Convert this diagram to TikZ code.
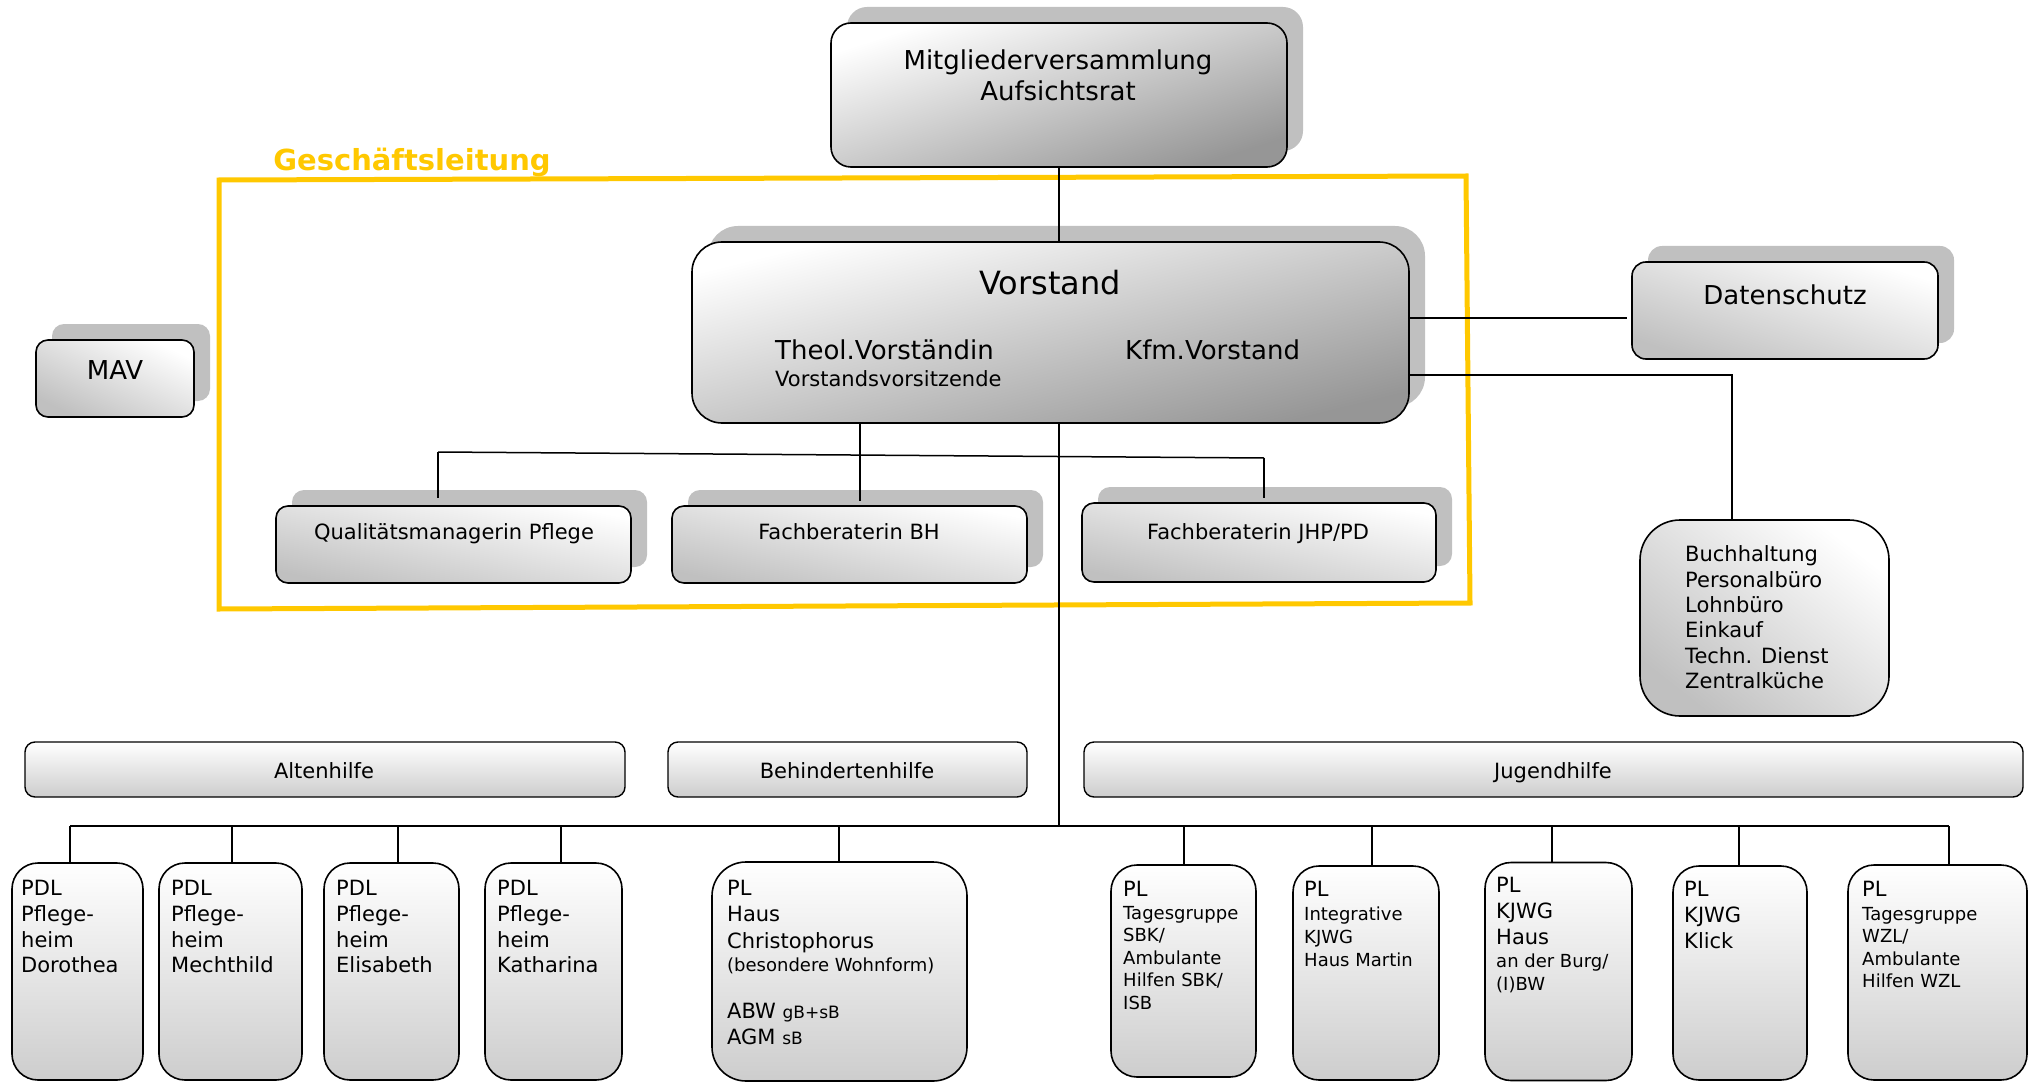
\documentclass[tikz,border=0pt]{standalone}
\usepackage{fontspec}
\setmainfont{DejaVu Sans}
\usetikzlibrary{shadows}
\definecolor{shgray}{RGB}{192,192,192}
\definecolor{gold}{RGB}{255,200,0}
\definecolor{gdark}{RGB}{150,150,150}
\definecolor{gmid}{RGB}{192,192,192}
\definecolor{glight}{RGB}{205,205,205}
\tikzset{
  shbox/.style={draw=black, line width=1.6pt, inner sep=0pt,
    general shadow={fill=shgray, shadow xshift=16pt, shadow yshift=16pt}},
  darkbox/.style={shbox, top color=white, bottom color=gdark, shading angle=#1},
  midbox/.style={shbox, top color=white, bottom color=gmid, shading angle=#1},
  barbox/.style={draw=black, line width=1.4pt, inner sep=0pt, rounded corners=10pt,
    top color=white, bottom color=glight},
  unitbox/.style={draw=black, line width=1.6pt, inner sep=0pt, rounded corners=26pt,
    top color=white, bottom color=glight},
  conn/.style={draw=black, line width=1.5pt},
  L/.style={inner sep=0pt, anchor=base west},
  C/.style={inner sep=0pt, anchor=base},
  fbig/.style={font=\fontsize{32}{38}\selectfont},
  fhead/.style={font=\fontsize{26}{31}\selectfont},
  fmid/.style={font=\fontsize{21}{25}\selectfont},
  fsm/.style={font=\fontsize{18}{22}\selectfont},
}
\begin{document}
\begin{tikzpicture}[x=1pt, y=-1pt]
\useasboundingbox (0,0) rectangle (2033,1083);

% Geschaeftsleitung frame
\draw[gold, line width=5pt, line join=miter] (219,180) -- (1466,176) -- (1470,603) -- (219,609) -- cycle;
\node[C, text=gold, font=\fontsize{29}{34}\selectfont\bfseries] (gltitle) at (412,171) {Geschäftsleitung};

% top boxes
\node[darkbox=18, rounded corners=20pt, minimum width=456pt, minimum height=144pt] (mv) at (1059,95) {};
\node[C, fhead] (mvt1) at (1058,70) {Mitgliederversammlung};
\node[C, fhead] (mvt2) at (1058,101) {Aufsichtsrat};

\node[darkbox=14, rounded corners=30pt, minimum width=717pt, minimum height=181pt] (vs) at (1050.5,332.5) {};
\node[C, fbig] (vst) at (1050,294) {Vorstand};
\node[L, fhead] (vst1) at (775,359) {Theol.Vorständin};
\node[L, fmid] (vst2) at (775,386) {Vorstandsvorsitzende};
\node[L, fhead] (vst3) at (1125,359) {Kfm.Vorstand};

\node[midbox=-26, rounded corners=12pt, minimum width=158pt, minimum height=77pt] (mav) at (115,378.5) {};
\node[C, fhead] (mavt) at (115,379) {MAV};

\node[midbox=-18, rounded corners=14pt, minimum width=306pt, minimum height=97pt] (ds) at (1785,310.5) {};
\node[C, fhead] (dst) at (1785,304) {Datenschutz};

\node[draw=black, line width=1.6pt, inner sep=0pt, rounded corners=40pt,
  top color=white, bottom color=gmid, shading angle=-38,
  minimum width=249pt, minimum height=196pt] (buch) at (1764.5,618) {};
\node[L, fmid] (b1) at (1685,561) {Buchhaltung};
\node[L, fmid] (b2) at (1685,587) {Personalbüro};
\node[L, fmid] (b3) at (1685,612) {Lohnbüro};
\node[L, fmid] (b4) at (1685,637) {Einkauf};
\node[L, fmid] (b5) at (1685,663) {Techn. Dienst};
\node[L, fmid] (b6) at (1685,688) {Zentralküche};

% staff boxes
\node[midbox=-12, rounded corners=12pt, minimum width=355pt, minimum height=77pt] (qm) at (453.5,544.5) {};
\node[C, fmid] (qmt) at (454,539) {Qualitätsmanagerin Pflege};
\node[midbox=-12, rounded corners=12pt, minimum width=355pt, minimum height=77pt] (fbh) at (849.5,544.5) {};
\node[C, fmid] (fbht) at (849,539) {Fachberaterin BH};
\node[midbox=-12, rounded corners=12pt, minimum width=354pt, minimum height=79pt] (fjhp) at (1259,542.5) {};
\node[C, fmid] (fjhpt) at (1258,539) {Fachberaterin JHP/PD};

% category bars
\node[barbox, minimum width=600pt, minimum height=55pt] (alt) at (325,769.5) {};
\node[C, fmid] (altt) at (324,778) {Altenhilfe};
\node[barbox, minimum width=359pt, minimum height=55pt] (beh) at (847.5,769.5) {};
\node[C, fmid] (beht) at (847,778) {Behindertenhilfe};
\node[barbox, minimum width=939pt, minimum height=55pt] (jug) at (1553.5,769.5) {};
\node[C, fmid] (jugt) at (1553,778) {Jugendhilfe};

% unit boxes
\node[unitbox, minimum width=131pt, minimum height=217pt] (u1) at (77.5,971.5) {};
\node[unitbox, minimum width=143pt, minimum height=217pt] (u2) at (230.5,971.5) {};
\node[unitbox, minimum width=135pt, minimum height=217pt] (u3) at (391.5,971.5) {};
\node[unitbox, minimum width=137pt, minimum height=217pt] (u4) at (553.5,971.5) {};
\node[unitbox, rounded corners=34pt, minimum width=255pt, minimum height=219pt] (u5) at (839.5,971.5) {};
\node[unitbox, minimum width=145pt, minimum height=212pt] (u6) at (1183.5,971) {};
\node[unitbox, minimum width=146pt, minimum height=214pt] (u7) at (1366,973) {};
\node[unitbox, minimum width=147pt, minimum height=218pt] (u8) at (1558.5,971.5) {};
\node[unitbox, minimum width=134pt, minimum height=214pt] (u9) at (1740,973) {};
\node[unitbox, minimum width=179pt, minimum height=215pt] (u10) at (1937.5,972.5) {};

% unit texts
\node[L, fmid] (u1a) at (21,895) {PDL};
\node[L, fmid] (u1b) at (21,921) {Pflege-};
\node[L, fmid] (u1c) at (21,947) {heim};
\node[L, fmid] (u1d) at (21,972) {Dorothea};
\node[L, fmid] (u2a) at (171,895) {PDL};
\node[L, fmid] (u2b) at (171,921) {Pflege-};
\node[L, fmid] (u2c) at (171,947) {heim};
\node[L, fmid] (u2d) at (171,972) {Mechthild};
\node[L, fmid] (u3a) at (336,895) {PDL};
\node[L, fmid] (u3b) at (336,921) {Pflege-};
\node[L, fmid] (u3c) at (336,947) {heim};
\node[L, fmid] (u3d) at (336,972) {Elisabeth};
\node[L, fmid] (u4a) at (497,895) {PDL};
\node[L, fmid] (u4b) at (497,921) {Pflege-};
\node[L, fmid] (u4c) at (497,947) {heim};
\node[L, fmid] (u4d) at (497,972) {Katharina};
\node[L, fmid] (u5a) at (727,895) {PL};
\node[L, fmid] (u5b) at (727,921) {Haus};
\node[L, fmid] (u5c) at (727,948) {Christophorus};
\node[L, fsm] (u5d) at (727,971) {(besondere Wohnform)};
\node[L, fmid] (u5e) at (727,1018) {ABW {\fontsize{17}{20}\selectfont gB+sB}};
\node[L, fmid] (u5f) at (727,1044) {AGM {\fontsize{17}{20}\selectfont sB}};
\node[L, fmid] (u6a) at (1123,896) {PL};
\node[L, fsm] (u6b) at (1123,919) {Tagesgruppe};
\node[L, fsm] (u6c) at (1123,941) {SBK/};
\node[L, fsm] (u6d) at (1123,964) {Ambulante};
\node[L, fsm] (u6e) at (1123,986) {Hilfen SBK/};
\node[L, fsm] (u6f) at (1123,1009) {ISB};
\node[L, fmid] (u7a) at (1304,896) {PL};
\node[L, fsm] (u7b) at (1304,920) {Integrative};
\node[L, fsm] (u7c) at (1304,943) {KJWG};
\node[L, fsm] (u7d) at (1304,966) {Haus Martin};
\node[L, fmid] (u8a) at (1496,892) {PL};
\node[L, fmid] (u8b) at (1496,918) {KJWG};
\node[L, fmid] (u8c) at (1496,944) {Haus};
\node[L, fsm] (u8d) at (1496,967) {an der Burg/};
\node[L, fsm] (u8e) at (1496,990) {(I)BW};
\node[L, fmid] (u9a) at (1684,896) {PL};
\node[L, fmid] (u9b) at (1684,922) {KJWG};
\node[L, fmid] (u9c) at (1684,948) {Klick};
\node[L, fmid] (u10a) at (1862,896) {PL};
\node[L, fsm] (u10b) at (1862,920) {Tagesgruppe};
\node[L, fsm] (u10c) at (1862,942) {WZL/};
\node[L, fsm] (u10d) at (1862,965) {Ambulante};
\node[L, fsm] (u10e) at (1862,987) {Hilfen WZL};

% connectors
\coordinate (gl) at (438,452);
\coordinate (gr) at (1264,458);
\coordinate (busc) at (1059,826);
\coordinate (busl) at (70,826);
\coordinate (busr) at (1949,826);

\draw[conn] (mv.south -| busc) -- (vs.north -| busc);
\draw[conn] (vs.east |- 0,318) -- ([xshift=-4pt]ds.west |- 0,318);
\draw[conn] (vs.east |- 0,375) -| ([xshift=-32.5pt]buch.north);
\draw[conn] (gl) -- (gr);
\draw[conn] (gl) -- ([yshift=7pt]qm.north -| gl);
\draw[conn] (gr) -- ([yshift=4pt]fjhp.north -| gr);
\draw[conn] (vs.south -| 860,0) -- ([yshift=4pt]fbh.north -| 860,0);
\draw[conn] (vs.south -| busc) -- (busc);
\draw[conn] (busl) -- (busr);
\draw[conn] (busl) -- (u1.north -| busl);
\draw[conn] (232,826) -- (u2.north -| 232,0);
\draw[conn] (398,826) -- (u3.north -| 398,0);
\draw[conn] (561,826) -- (u4.north -| 561,0);
\draw[conn] (839,826) -- (u5.north -| 839,0);
\draw[conn] (1184,826) -- (u6.north -| 1184,0);
\draw[conn] (1372,826) -- (u7.north -| 1372,0);
\draw[conn] (1552,826) -- (u8.north -| 1552,0);
\draw[conn] (1739,826) -- (u9.north -| 1739,0);
\draw[conn] (busr) -- (u10.north -| busr);
\end{tikzpicture}
\end{document}
